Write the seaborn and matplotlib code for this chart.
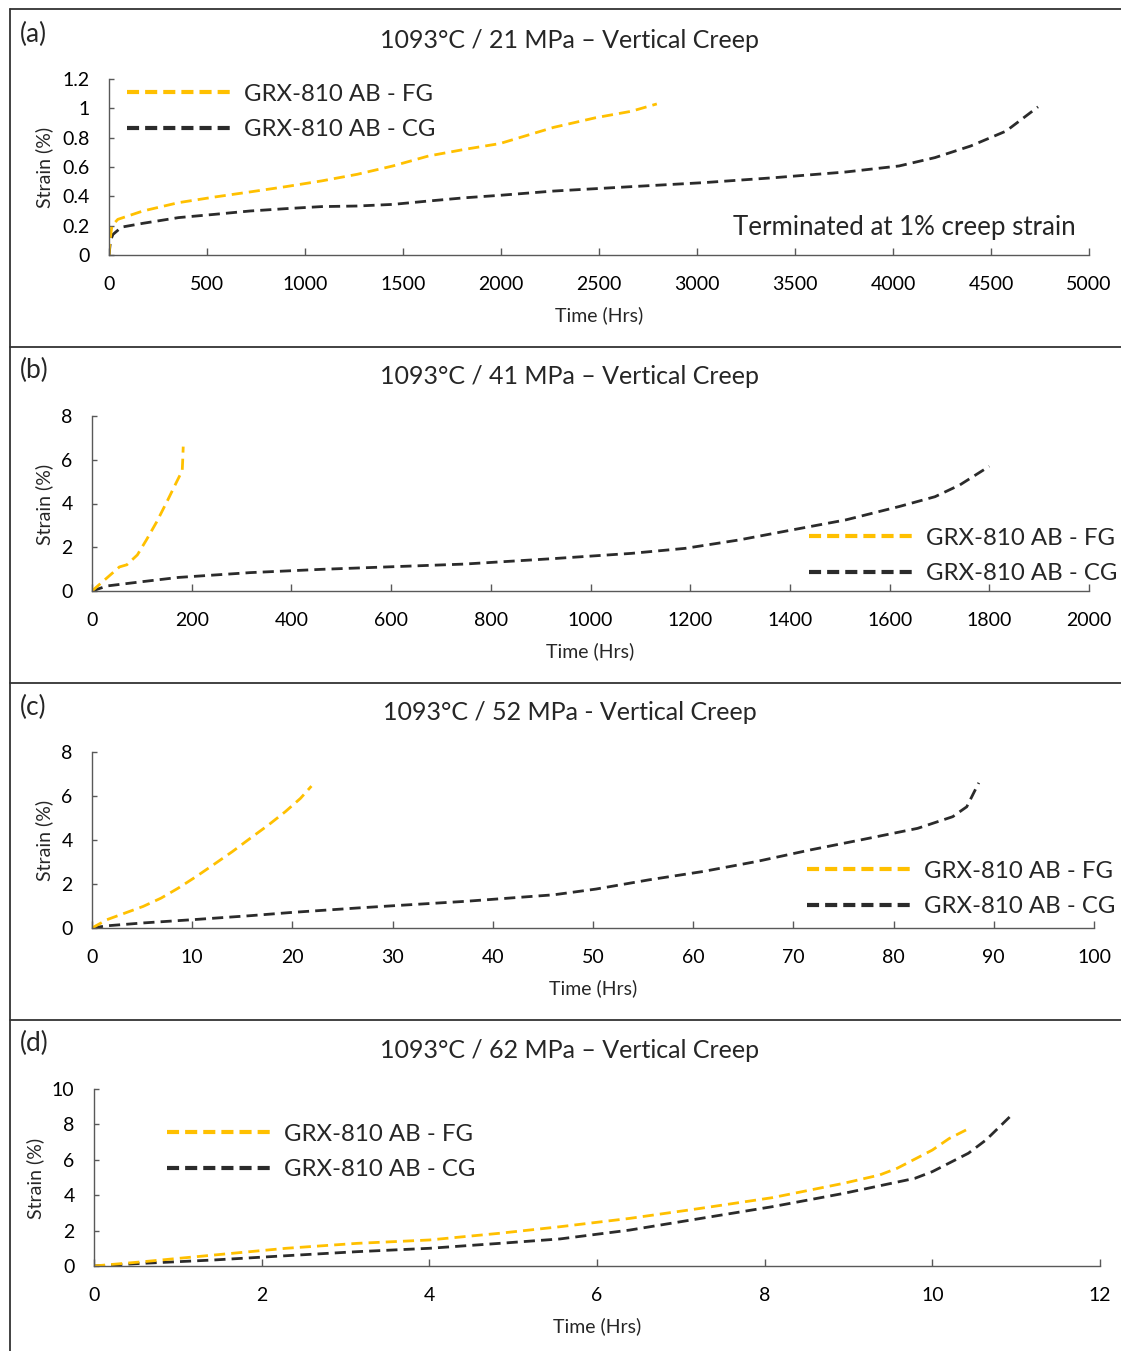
import numpy as np
import pandas as pd
import matplotlib
matplotlib.use("Agg")
import matplotlib.pyplot as plt
from matplotlib.lines import Line2D
from matplotlib.ticker import FuncFormatter, MultipleLocator
import seaborn as sns

# ---------------- data ----------------
# (a) 1093C / 21 MPa
a_fg_t = [0, 5, 15, 45, 173, 355, 537, 719, 902, 1084, 1266, 1448, 1630, 1813, 1995, 2268, 2483, 2665, 2795]
a_fg_s = [0, 0.10, 0.20, 0.243, 0.30, 0.357, 0.395, 0.43, 0.466, 0.505, 0.55, 0.607, 0.675, 0.72, 0.76, 0.87, 0.936, 0.98, 1.03]
a_cg_t = [0, 8, 20, 64, 173, 355, 537, 719, 902, 1084, 1266, 1448, 1630, 1813, 1995, 2268, 2665, 3030, 3393, 3759, 4031, 4214, 4396, 4577, 4740]
a_cg_s = [0, 0.10, 0.14, 0.19, 0.216, 0.255, 0.277, 0.30, 0.316, 0.33, 0.334, 0.345, 0.368, 0.39, 0.407, 0.436, 0.466, 0.493, 0.527, 0.566, 0.607, 0.664, 0.743, 0.845, 1.01]

# (b) 1093C / 41 MPa
b_fg_t = [0, 30, 55, 70, 91, 109, 130, 152, 170, 181, 182, 183]
b_fg_s = [0, 0.6, 1.1, 1.2, 1.65, 2.33, 3.17, 4.16, 5.0, 5.5, 6.0, 6.6]
b_cg_t = [0, 30, 102, 173, 317, 460, 603, 746, 925, 1082, 1190, 1297, 1404, 1512, 1619, 1691, 1741, 1800]
b_cg_s = [0, 0.23, 0.43, 0.62, 0.84, 0.99, 1.11, 1.23, 1.48, 1.72, 1.95, 2.33, 2.79, 3.25, 3.86, 4.31, 4.85, 5.7]

# (c) 1093C / 52 MPa
c_fg_t = [0, 1.5, 3.3, 5.1, 6.9, 8.6, 10.4, 12.2, 14.0, 15.8, 17.6, 19.3, 20.8, 21.9]
c_fg_s = [0, 0.38, 0.68, 0.98, 1.36, 1.81, 2.34, 2.9, 3.47, 4.08, 4.68, 5.29, 5.89, 6.45]
c_cg_t = [0, 1.5, 5.1, 10.1, 15.8, 20.0, 26.5, 30.0, 37.2, 46.1, 50.3, 55.6, 61.0, 66.3, 71.7, 77.0, 82.4, 85.9, 87.3, 88.5]
c_cg_s = [0, 0.10, 0.23, 0.38, 0.56, 0.71, 0.91, 1.01, 1.21, 1.51, 1.77, 2.19, 2.57, 3.02, 3.55, 4.03, 4.53, 5.06, 5.51, 6.6]

# (d) 1093C / 62 MPa
d_fg_t = [0, 0.58, 1.43, 2.29, 3.14, 4.0, 4.84, 5.56, 6.39, 7.24, 8.09, 8.94, 9.37, 9.58, 10.0, 10.2, 10.45]
d_fg_s = [0, 0.24, 0.62, 1.0, 1.28, 1.47, 1.85, 2.22, 2.69, 3.26, 3.86, 4.67, 5.14, 5.52, 6.55, 7.2, 7.8]
d_cg_t = [0, 0.58, 1.43, 2.29, 3.14, 4.0, 4.84, 5.56, 6.39, 7.24, 8.09, 8.94, 9.79, 10.0, 10.43, 10.64, 10.95]
d_cg_s = [0, 0.15, 0.34, 0.58, 0.81, 1.0, 1.28, 1.53, 2.03, 2.69, 3.35, 4.1, 4.95, 5.33, 6.37, 7.12, 8.55]

panel_tags = ["(a)", "(b)", "(c)", "(d)"]
titles = ["1093°C / 21 MPa – Vertical Creep", "1093°C / 41 MPa – Vertical Creep",
          "1093°C / 52 MPa - Vertical Creep", "1093°C / 62 MPa – Vertical Creep"]
series_labels = ["GRX-810 AB - FG", "GRX-810 AB - CG"]
x_limits = [(0, 5000), (0, 2000), (0, 100), (0, 12)]
x_steps = [500, 200, 10, 2]
y_limits = [(0, 1.2), (0, 8), (0, 8), (0, 10)]
y_steps = [0.2, 2, 2, 2]
note_text = "Terminated at 1% creep strain"

# ---------------- styling / layout ----------------
W, H = 1121, 1351
sns.set_theme(style="white")
plt.rcParams["font.family"] = ["Lato", "DejaVu Sans"]

FG_COLOR = "#FFC000"
CG_COLOR = "#2b2b2b"
AX_COLOR = "#595959"

fig = plt.figure(figsize=(W / 100, H / 100), dpi=100)

def fx(x):
    return x / W

def fy(y):
    return 1 - y / H

# axes boxes in pixels: left, right, top, bottom
boxes = [(109, 1089, 79, 255), (92, 1089, 416, 591), (92, 1094, 752, 928), (94, 1100, 1089, 1266)]
title_y = [40, 377, 713, 1050]
tag_y = [34, 370, 707, 1043]
xlabel_pos = [(599, 315), (590, 651), (593, 988), (597, 1326)]
ylabel_pos = [(44, 167), (44, 504), (44, 840), (35, 1178)]
legend_pos = [(127, 112), (809, 556), (807, 889), (167, 1152)]

data = [
    (a_fg_t, a_fg_s, a_cg_t, a_cg_s),
    (b_fg_t, b_fg_s, b_cg_t, b_cg_s),
    (c_fg_t, c_fg_s, c_cg_t, c_cg_s),
    (d_fg_t, d_fg_s, d_cg_t, d_cg_s),
]

fmt = FuncFormatter(lambda v, p: "{:g}".format(round(v, 6)))
data_dash = (0, (4, 2.2))
leg_dash = (0, (2.9, 1.45))

for i in range(4):
    l, r, t, b = boxes[i]
    ax = fig.add_axes([fx(l), fy(b), (r - l) / W, (b - t) / H])
    fg_t, fg_s, cg_t, cg_s = data[i]
    df_fg = pd.DataFrame({"t": fg_t, "s": fg_s})
    df_cg = pd.DataFrame({"t": cg_t, "s": cg_s})
    sns.lineplot(data=df_cg, x="t", y="s", ax=ax, color=CG_COLOR, lw=2.0,
                 linestyle=data_dash, sort=False, estimator=None, legend=False)
    sns.lineplot(data=df_fg, x="t", y="s", ax=ax, color=FG_COLOR, lw=2.0,
                 linestyle=data_dash, sort=False, estimator=None, legend=False)
    ax.set_xlim(*x_limits[i])
    ax.set_ylim(*y_limits[i])
    ax.xaxis.set_major_locator(MultipleLocator(x_steps[i]))
    ax.yaxis.set_major_locator(MultipleLocator(y_steps[i]))
    ax.xaxis.set_major_formatter(fmt)
    ax.yaxis.set_major_formatter(fmt)
    ax.set_xlabel("")
    ax.set_ylabel("")
    for side in ["top", "right"]:
        ax.spines[side].set_visible(False)
    for side in ["left", "bottom"]:
        ax.spines[side].set_color(AX_COLOR)
        ax.spines[side].set_linewidth(1.0)
    ax.tick_params(axis="x", direction="in", length=5, width=1, color=AX_COLOR,
                   bottom=True, labelsize=14, pad=15, labelcolor="black")
    ax.tick_params(axis="y", direction="in", length=3.5, width=1, color=AX_COLOR,
                   left=True, labelsize=14, pad=14, labelcolor="black")
    ax.patch.set_alpha(0)

    # legend
    handles = [Line2D([0], [0], color=FG_COLOR, lw=3.0, linestyle=leg_dash),
               Line2D([0], [0], color=CG_COLOR, lw=3.0, linestyle=leg_dash)]
    lx, ly = legend_pos[i]
    ax.legend(handles, series_labels, loc="center left",
              bbox_to_anchor=(fx(lx), fy(ly)), bbox_transform=fig.transFigure,
              frameon=False, fontsize=17.3, handlelength=4.4, handletextpad=0.45,
              labelspacing=0.6, borderpad=0, borderaxespad=0)

    # title, tag, axis labels
    fig.text(fx(570), fy(title_y[i]), titles[i], ha="center", va="center", fontsize=18)
    fig.text(fx(20), fy(tag_y[i]), panel_tags[i], ha="left", va="center", fontsize=19)
    xlx, xly = xlabel_pos[i]
    fig.text(fx(xlx), fy(xly), "Time (Hrs)", ha="center", va="center", fontsize=14)
    ylx, yly = ylabel_pos[i]
    fig.text(fx(ylx), fy(yly), "Strain (%)", ha="center", va="center", fontsize=14, rotation=90)

fig.text(fx(1076), fy(228), note_text, ha="right", va="center", fontsize=18.6)

# panel frames
frame_kw = dict(color="#333333", lw=1.3, transform=fig.transFigure)
fig.add_artist(Line2D([fx(10), fx(10)], [fy(9), fy(1351)], **frame_kw))
for yy in [9, 347, 683, 1020]:
    fig.add_artist(Line2D([fx(10), fx(1121)], [fy(yy), fy(yy)], **frame_kw))

fig.savefig("out.png", dpi=100, facecolor="white")
